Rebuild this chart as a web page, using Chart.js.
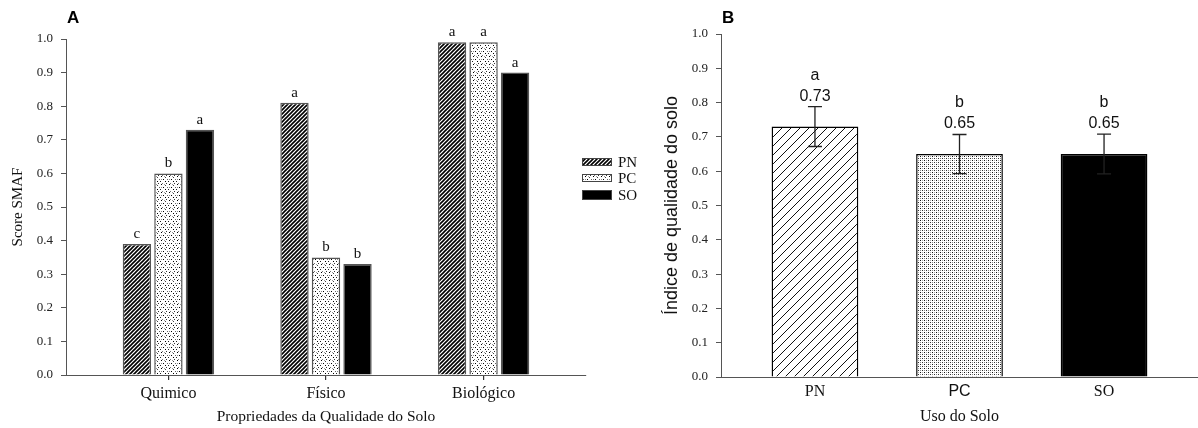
<!DOCTYPE html>
<html>
<head>
<meta charset="utf-8">
<script src="https://cdn.jsdelivr.net/npm/chart.js@4.4.1/dist/chart.umd.min.js"></script>
<style>
  body { margin: 0; background: #fff; width: 1198px; height: 428px; overflow: hidden; position: relative; }
  #chartA { position: absolute; left: 0; top: 0; }
  #chartB { position: absolute; left: 640px; top: 0; }
</style>
</head>
<body>
<canvas id="chartA" width="640" height="428"></canvas>
<canvas id="chartB" width="558" height="428"></canvas>
<script>
// panel A - score SMAF per propriedade
const propCategories = ['Quimico', 'Físico', 'Biológico'];
const seriesNames = ['PN', 'PC', 'SO'];
const scorePN = [0.39, 0.81, 0.99];
const scorePC = [0.60, 0.35, 0.99];
const scoreSO = [0.73, 0.33, 0.90];
const lettersPN = ['c', 'a', 'a'];
const lettersPC = ['b', 'b', 'a'];
const lettersSO = ['a', 'b', 'a'];

// panel B - indice de qualidade do solo
const usoCategories = ['PN', 'PC', 'SO'];
const iqsValues = [0.73, 0.65, 0.65];
const iqsErrors = [0.058, 0.057, 0.058];
const iqsLetters = ['a', 'b', 'b'];

const yTicks = [0.0, 0.1, 0.2, 0.3, 0.4, 0.5, 0.6, 0.7, 0.8, 0.9, 1.0];

const serif = '"Liberation Serif", "Times New Roman", serif';
const sans = '"Liberation Sans", Arial, sans-serif';
const axisColor = '#555';

// fill patterns
const patCtx = document.createElement('canvas').getContext('2d');

function hatch(size, lw, color) {
    const c = document.createElement('canvas');
    c.width = c.height = size;
    const g = c.getContext('2d');
    g.fillStyle = '#fff';
    g.fillRect(0, 0, size, size);
    g.strokeStyle = color;
    g.lineWidth = lw;
    g.beginPath();
    g.moveTo(-1, size + 1); g.lineTo(size + 1, -1);
    g.moveTo(-1, 1); g.lineTo(1, -1);
    g.moveTo(size - 1, size + 1); g.lineTo(size + 1, size - 1);
    g.stroke();
    return patCtx.createPattern(c, 'repeat');
}

function dots(size, pts) {
    const c = document.createElement('canvas');
    c.width = c.height = size;
    const g = c.getContext('2d');
    g.fillStyle = '#fff';
    g.fillRect(0, 0, size, size);
    pts.forEach(p => {
        g.fillStyle = p[2];
        g.fillRect(p[0], p[1], 1, 1);
    });
    return patCtx.createPattern(c, 'repeat');
}

const fillsA = [
    hatch(4, 1.6, '#000'),
    dots(8, [[1, 0, '#000'], [5, 1, '#444'], [3, 3, '#000'], [7, 3, '#666'], [0, 5, '#222'], [5, 5, '#000'],
             [2, 7, '#777'], [6, 7, '#333'], [4, 0, '#999'], [1, 3, '#888']]),
    '#000'
];
const fillsB = [
    hatch(9, 1, '#111'),
    dots(4, [[0, 0, '#111'], [2, 2, '#333'], [2, 0, '#aaa'], [0, 2, '#888']]),
    '#000'
];

const panelLabel = (txt) => ({
    id: 'panelLabel',
    afterDraw(chart) {
        const ctx = chart.ctx;
        ctx.save();
        ctx.font = 'bold 17px ' + sans;
        ctx.fillStyle = '#000';
        ctx.textAlign = 'left';
        ctx.textBaseline = 'alphabetic';
        ctx.fillText(txt, chart.chartArea.left + 1, 23);
        ctx.restore();
    }
});

// letters over each bar in A
const barLetters = {
    id: 'barLetters',
    afterDatasetsDraw(chart) {
        const ctx = chart.ctx;
        ctx.save();
        ctx.font = '15px ' + serif;
        ctx.fillStyle = '#111';
        ctx.textAlign = 'center';
        ctx.textBaseline = 'alphabetic';
        chart.data.datasets.forEach((ds, di) => {
            chart.getDatasetMeta(di).data.forEach((bar, i) => {
                ctx.fillText(ds.letters[i], bar.x, bar.y - 6);
            });
        });
        ctx.restore();
    }
};

// legend box for A
const legendA = {
    id: 'legendA',
    afterDraw(chart) {
        const ctx = chart.ctx;
        const x0 = chart.chartArea.right - 4;
        const rows = [162, 178, 195];
        ctx.save();
        chart.data.datasets.forEach((ds, i) => {
            const h = i === 2 ? 10 : 8;
            ctx.fillStyle = ds.backgroundColor;
            ctx.fillRect(x0, rows[i] - h / 2, 30, h);
            ctx.strokeStyle = '#444';
            ctx.lineWidth = 1;
            ctx.strokeRect(x0 + 0.5, rows[i] - h / 2 + 0.5, 29, h - 1);
            ctx.fillStyle = '#111';
            ctx.font = '15px ' + serif;
            ctx.textBaseline = 'middle';
            ctx.textAlign = 'left';
            ctx.fillText(ds.label, x0 + 36, rows[i] + 1);
        });
        ctx.restore();
    }
};

// error bars + labels in B
const errorBars = {
    id: 'errorBars',
    afterDatasetsDraw(chart) {
        const ctx = chart.ctx;
        const ys = chart.scales.y;
        ctx.save();
        chart.getDatasetMeta(0).data.forEach((bar, i) => {
            const top = ys.getPixelForValue(iqsValues[i] + iqsErrors[i]);
            const bot = ys.getPixelForValue(iqsValues[i] - iqsErrors[i]);
            ctx.strokeStyle = '#222';
            ctx.lineWidth = 1.3;
            ctx.beginPath();
            ctx.moveTo(bar.x, top); ctx.lineTo(bar.x, bot);
            ctx.moveTo(bar.x - 7, top); ctx.lineTo(bar.x + 7, top);
            ctx.moveTo(bar.x - 7, bot); ctx.lineTo(bar.x + 7, bot);
            ctx.stroke();
            ctx.fillStyle = '#111';
            ctx.font = '16px ' + sans;
            ctx.textAlign = 'center';
            ctx.textBaseline = 'alphabetic';
            ctx.fillText(iqsValues[i].toFixed(2), bar.x, top - 6);
            ctx.fillText(iqsLetters[i], bar.x, top - 27);
        });
        ctx.restore();
    }
};

function yAxis(width, titleText, titleFont, titlePad) {
    return {
        min: 0, max: 1,
        afterFit: s => { s.width = width; },
        afterBuildTicks: s => { s.ticks = yTicks.map(v => ({ value: v })); },
        grid: { drawOnChartArea: false, drawTicks: true, tickLength: 5, color: axisColor },
        border: { display: true, color: axisColor, width: 1 },
        ticks: { padding: 8, color: '#222', font: { family: serif, size: 13 }, callback: v => v.toFixed(1) },
        title: { display: true, text: titleText, color: '#111', font: titleFont, padding: { top: titlePad, bottom: 0 } }
    };
}

const datasetsA = [scorePN, scorePC, scoreSO].map((vals, k) => ({
    label: seriesNames[k],
    data: vals.map((v, i) => ({ x: i + 1, y: v })),
    letters: [lettersPN, lettersPC, lettersSO][k],
    backgroundColor: fillsA[k],
    borderColor: '#555',
    borderWidth: 1.5,
    categoryPercentage: 0.6,
    barPercentage: 0.9
}));

new Chart(document.getElementById('chartA'), {
    type: 'bar',
    data: { datasets: datasetsA },
    options: {
        responsive: false,
        animation: false,
        layout: { padding: { left: 0, right: 54, top: 39, bottom: 0 } },
        plugins: { legend: { display: false }, tooltip: { enabled: false } },
        scales: {
            x: {
                type: 'linear', min: 0.35, max: 3.65, offset: false,
                afterFit: s => { s.height = 53; },
                afterBuildTicks: s => { s.ticks = propCategories.map((c, i) => ({ value: i + 1 })); },
                grid: { offset: false, drawOnChartArea: false, drawTicks: true, tickLength: 5, color: '#333', lineWidth: 1.2 },
                border: { display: true, color: axisColor, width: 1 },
                ticks: { padding: 4, color: '#111', font: { family: serif, size: 16 }, callback: v => propCategories[v - 1] },
                title: { display: true, text: 'Propriedades da Qualidade do Solo', color: '#111',
                    font: { family: serif, size: 15.5 }, padding: { top: 0, bottom: 2 } }
            },
            y: yAxis(66, 'Score SMAF', { family: serif, size: 15 }, 9)
        }
    },
    plugins: [barLetters, legendA, panelLabel('A')]
});

new Chart(document.getElementById('chartB'), {
    type: 'bar',
    data: {
        datasets: [{
            label: 'IQS',
            data: iqsValues.map((v, i) => ({ x: i + 1, y: v })),
            backgroundColor: fillsB,
            borderColor: '#000',
            borderWidth: 1.5,
            categoryPercentage: 0.6,
            barPercentage: 1
        }]
    },
    options: {
        responsive: false,
        animation: false,
        layout: { padding: { left: 0, right: 0, top: 34, bottom: 0 } },
        plugins: { legend: { display: false }, tooltip: { enabled: false } },
        scales: {
            x: {
                type: 'linear', min: 0.35, max: 3.65, offset: false,
                afterFit: s => { s.height = 51; },
                afterBuildTicks: s => { s.ticks = usoCategories.map((c, i) => ({ value: i + 1 })); },
                grid: { offset: false, drawOnChartArea: false, drawTicks: false },
                border: { display: true, color: axisColor, width: 1 },
                ticks: {
                    padding: 5, color: '#111',
                    font: ctx => ({ family: ctx.index === 1 ? sans : serif, size: 16 }),
                    callback: v => usoCategories[v - 1]
                },
                title: { display: true, text: 'Uso do Solo', color: '#111',
                    font: { family: serif, size: 16 }, padding: { top: 0, bottom: 2 } }
            },
            y: yAxis(81, 'Índice de qualidade do solo', { family: sans, size: 18 }, 21)
        }
    },
    plugins: [errorBars, panelLabel('B')]
});
</script>
</body>
</html>
